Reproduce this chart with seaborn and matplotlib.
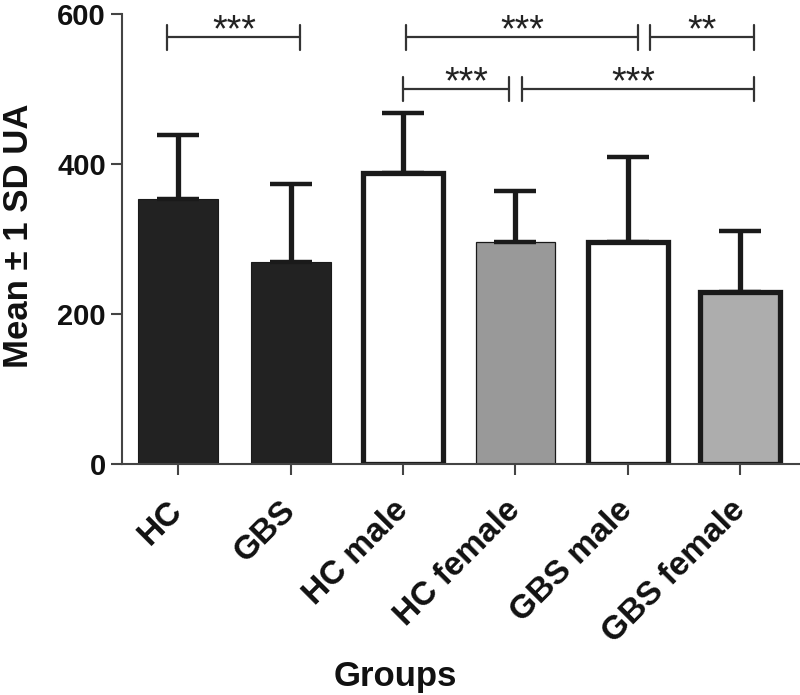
import matplotlib
matplotlib.use("Agg")
import matplotlib.pyplot as plt
import seaborn as sns
import pandas as pd

# values
groups = ["HC", "GBS", "HC male", "HC female", "GBS male", "GBS female"]
means = [353, 269, 388, 296, 296, 229]
sds = [86, 104, 80, 68, 113, 82]

# significance brackets (in category index units / data units)
bracket_left = [-0.1, 2.03, 4.2, 2.0, 3.06]
bracket_right = [1.08, 4.09, 5.12, 2.94, 5.12]
bracket_y = [569, 569, 569, 500, 500]
bracket_text = ["***", "***", "**", "***", "***"]
bracket_text_x = [0.5, 3.06, 4.66, 2.56, 4.05]

fills = ["#222222", "#222222", "#ffffff", "#999999", "#ffffff", "#adadad"]
edge_widths = [0.8, 0.8, 3.8, 0.9, 3.8, 3.8]


def main():
    sns.set_style("ticks")
    plt.rcParams["font.family"] = ["Liberation Sans", "DejaVu Sans"]

    df = pd.DataFrame({"group": groups, "mean": means, "sd": sds})

    fig = plt.figure(figsize=(8, 6.95), dpi=100)
    ax = fig.add_axes([0.1525, 0.3324, 0.846, 0.6475])

    sns.barplot(data=df, x="group", y="mean", order=groups, errorbar=None,
                width=0.71, ax=ax, color="#222222")
    for patch, fc, lw in zip(ax.patches, fills, edge_widths):
        patch.set_facecolor(fc)
        patch.set_edgecolor("#1a1a1a")
        patch.set_linewidth(lw)
        patch.set_zorder(2)

    # upper-only SD error bars
    ax.errorbar(range(len(groups)), df["mean"], yerr=[[0] * len(groups), df["sd"]],
                fmt="none", ecolor="#1a1a1a", elinewidth=3.8, capsize=15,
                capthick=3.2, zorder=3)

    # significance brackets
    for x0, x1, y, txt, tx in zip(bracket_left, bracket_right, bracket_y,
                                  bracket_text, bracket_text_x):
        ax.plot([x0, x1], [y, y], color="#333333", lw=1.6, clip_on=False, zorder=4)
        for xx in (x0, x1):
            ax.plot([xx, xx], [y - 16.5, y + 16.5], color="#333333", lw=1.6,
                    clip_on=False, zorder=4)
        ax.text(tx, y - 6, txt, ha="center", va="baseline",
                fontsize=27, color="#222222")

    ax.set_ylim(0, 600)
    ax.set_xlim(-0.5, 5.52)
    ax.set_yticks([0, 200, 400, 600])
    sns.despine(ax=ax)
    for side in ("left", "bottom"):
        ax.spines[side].set_linewidth(1.5)
        ax.spines[side].set_color("#444444")
    ax.tick_params(axis="both", length=8, width=1.5, color="#444444",
                   labelsize=21, labelcolor="#111111")
    ax.tick_params(axis="x", labelsize=24, pad=22)
    for lab in ax.get_yticklabels():
        lab.set_fontweight("bold")
    ax.set_xticks(range(len(groups)))
    ax.set_xticklabels(groups, rotation=45, ha="right", va="center",
                       rotation_mode="anchor", fontweight="bold")

    ax.set_ylabel("Mean \u00b1 1 SD UA", fontsize=25, fontweight="bold",
                  color="#111111")
    ax.yaxis.set_label_coords(-0.128, 0.507)
    ax.set_xlabel("Groups", fontsize=25, fontweight="bold", color="#111111")
    ax.xaxis.set_label_coords(0.404, -0.435)

    fig.savefig("out.png", dpi=100)
    plt.close(fig)


if __name__ == "__main__":
    main()
